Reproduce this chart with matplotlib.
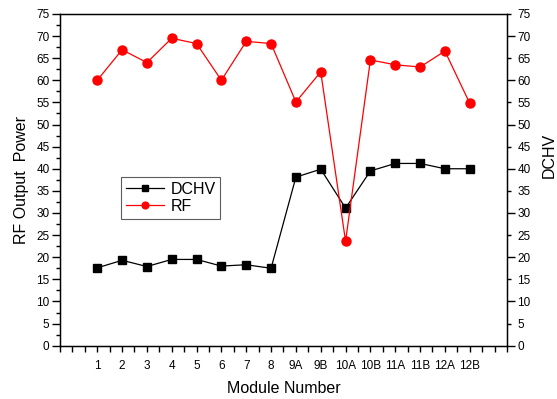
import numpy as np
import matplotlib
matplotlib.use("Agg")
import matplotlib.pyplot as plt
from matplotlib.ticker import MultipleLocator, FixedLocator, FixedFormatter, ScalarFormatter

plt.rcParams['font.family'] = ['Liberation Sans', 'DejaVu Sans']

# data
modules = ['1', '2', '3', '4', '5', '6', '7', '8', '9A', '9B',
           '10A', '10B', '11A', '11B', '12A', '12B']
dchv = [17.6, 19.3, 17.9, 19.5, 19.5, 18.0, 18.3, 17.5, 38.1, 39.9,
        31.1, 39.5, 41.2, 41.2, 40.0, 40.0]
rf = [60.0, 66.9, 64.0, 69.5, 68.3, 60.0, 68.8, 68.3, 55.1, 61.9,
      23.6, 64.6, 63.5, 63.0, 66.6, 54.8]

x = np.arange(1, len(modules) + 1)

fig = plt.figure(figsize=(5.57, 3.99), dpi=100)
ax = fig.add_axes([0.1077, 0.1336, 0.8025, 0.8315])

ax.plot(x, dchv, color='black', lw=0.9, marker='s', ms=5.5, label='DCHV')
ax.plot(x, rf, color='red', lw=0.9, marker='o', ms=6.5, label='RF')

ax.set_xlim(-0.5, 17.5)
ax.set_ylim(0, 75)

# x ticks: every half step, labels only on the modules
ax.xaxis.set_major_locator(FixedLocator(x))
ax.xaxis.set_major_formatter(FixedFormatter(modules))
ax.xaxis.set_minor_locator(MultipleLocator(0.5))
ax.tick_params(axis='x', which='both', direction='out', length=4.5, width=1,
               labelsize=8.5, pad=6, top=False)

ax.yaxis.set_major_locator(MultipleLocator(5))
ax.yaxis.set_minor_locator(MultipleLocator(2.5))
ax.tick_params(axis='y', which='major', direction='out', length=5.5, width=1,
               labelsize=8.5, pad=2)
ax.tick_params(axis='y', which='minor', direction='out', length=3, width=1)

ax.set_xlabel('Module Number', fontsize=11.5, labelpad=6)
ax.set_ylabel('RF Output  Power', fontsize=11.5, labelpad=5)

for s in ax.spines.values():
    s.set_linewidth(1)

# right axis, same scale
ax2 = ax.twinx()
ax2.set_ylim(0, 75)
ax2.yaxis.set_major_locator(MultipleLocator(10))
ax2.yaxis.set_minor_locator(MultipleLocator(5))
ax2.yaxis.set_minor_formatter(ScalarFormatter())
ax2.tick_params(axis='y', which='major', direction='out', length=5.5, width=1,
                labelsize=8.5, pad=2)
ax2.tick_params(axis='y', which='minor', direction='out', length=3, width=1,
                labelsize=8.5, pad=4.5)
fig.text(549 / 557, 0.61, 'DCHV', rotation=90, ha='center', va='center',
         fontsize=11.5)

leg = ax.legend(loc='upper left', bbox_to_anchor=(0.136, 0.509), borderaxespad=0,
                fontsize=11.5, frameon=True, fancybox=False, handlelength=2.4,
                handletextpad=0.4, borderpad=0.3, labelspacing=0.15, markerscale=0.75)
leg.get_frame().set_edgecolor('#333333')
leg.get_frame().set_linewidth(0.8)

fig.savefig('out.png', dpi=100)
